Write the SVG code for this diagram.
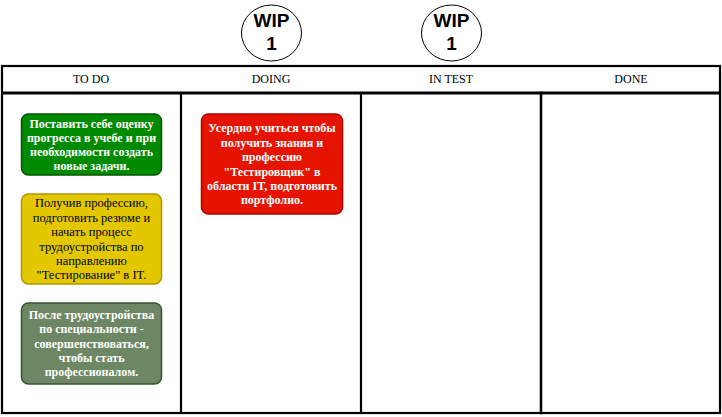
<svg xmlns="http://www.w3.org/2000/svg" width="722" height="417" viewBox="0 0 722 417">
<style>
.frame{fill:none;stroke:#000;stroke-width:2.2;stroke-linecap:square}
.hdr{font-family:"Liberation Serif",serif;font-size:12px;fill:#000;text-anchor:middle}
.wip{fill:#fff;stroke:#000;stroke-width:1}
.wipt{font-family:"Liberation Sans",Arial,sans-serif;font-size:19px;font-weight:bold;fill:#000;text-anchor:middle}
.card{stroke-width:1.5}
.ct{font-family:"Liberation Serif",serif;font-size:12px;text-anchor:middle}
.w{fill:#fff;font-weight:bold}
.b{fill:#000;font-size:12.5px}
</style>
<rect width="722" height="417" fill="#fff"/>
<g id="board">
<rect class="frame" x="2" y="66" width="718" height="347"/>
<line x1="2" y1="93" x2="720" y2="93" stroke="#000" stroke-width="3"/>
<line class="frame" x1="181" y1="93" x2="181" y2="413"/>
<line class="frame" x1="361" y1="93" x2="361" y2="413"/>
<line class="frame" x1="541" y1="93" x2="541" y2="413" style="stroke-width:2.5"/>
<text class="hdr" x="91" y="83">TO DO</text>
<text class="hdr" x="271" y="83">DOING</text>
<text class="hdr" x="451" y="83">IN TEST</text>
<text class="hdr" x="631" y="83">DONE</text>
</g>
<g id="wip1">
<ellipse class="wip" cx="271.5" cy="33" rx="30" ry="28"/>
<text class="wipt" x="271.5" y="27">WIP</text>
<text class="wipt" x="271.5" y="50">1</text>
</g>
<g id="wip2">
<ellipse class="wip" cx="451.5" cy="33" rx="30" ry="28"/>
<text class="wipt" x="451.5" y="27">WIP</text>
<text class="wipt" x="451.5" y="50">1</text>
</g>
<g id="card-green">
<rect class="card" x="21.5" y="114" width="140" height="61" rx="7" fill="#008a00" stroke="#005700"/>
<text class="ct w" x="91.5" y="128">Поставить себе оценку</text>
<text class="ct w" x="91.5" y="142">прогресса в учебе и при</text>
<text class="ct w" x="91.5" y="156">необходимости создать</text>
<text class="ct w" x="91.5" y="170">новые задачи.</text>
</g>
<g id="card-yellow">
<rect class="card" x="21.5" y="194" width="140" height="90" rx="7" fill="#e3c800" stroke="#b09500"/>
<text class="ct b" x="91.5" y="207">Получив профессию,</text>
<text class="ct b" x="91.5" y="222">подготовить резюме и</text>
<text class="ct b" x="91.5" y="236">начать процесс</text>
<text class="ct b" x="91.5" y="251">трудоустройства  по</text>
<text class="ct b" x="91.5" y="265">направлению</text>
<text class="ct b" x="91.5" y="279">"Тестирование" в IT.</text>
</g>
<g id="card-grey">
<rect class="card" x="21.5" y="303" width="140" height="81" rx="7" fill="#6d8764" stroke="#3a5431"/>
<text class="ct w" x="91.5" y="319">После трудоустройства</text>
<text class="ct w" x="91.5" y="333">по специальности -</text>
<text class="ct w" x="91.5" y="348">совершенствоваться,</text>
<text class="ct w" x="91.5" y="362">чтобы стать</text>
<text class="ct w" x="91.5" y="376">профессионалом.</text>
</g>
<g id="card-red">
<rect class="card" x="201.5" y="114" width="141" height="100" rx="7" fill="#e51400" stroke="#b20000"/>
<text class="ct w" x="272" y="132">Усердно учиться чтобы</text>
<text class="ct w" x="272" y="147">получить знания и</text>
<text class="ct w" x="272" y="161">профессию</text>
<text class="ct w" x="272" y="176">"Тестировщик" в</text>
<text class="ct w" x="272" y="190">области IT, подготовить</text>
<text class="ct w" x="272" y="204">портфолио.</text>
</g>
<g id="connectors"></g>
</svg>
